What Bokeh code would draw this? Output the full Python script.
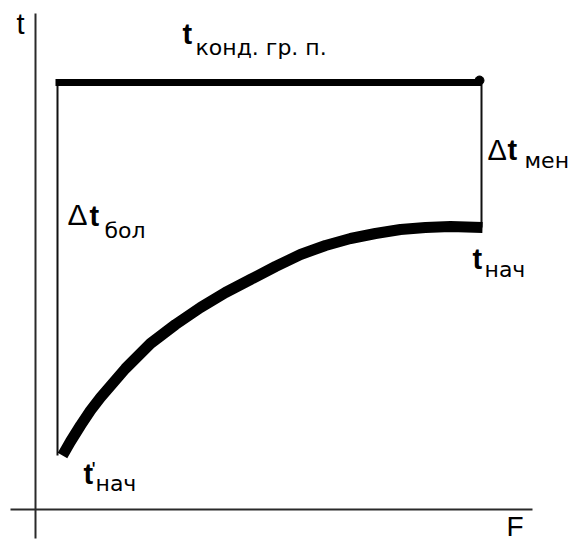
from bokeh.plotting import figure
from bokeh.models import Range1d
from bokeh.core.properties import value
from bokeh.embed import file_html
from bokeh.resources import INLINE

# Schematic: condensation temperature vs. heat-transfer surface F
# Coordinates: F along the horizontal axis, t along the vertical axis (origin at axis cross)

# Curve of the initial temperature t_нач along F
F_curve = [27, 35, 45, 55, 65, 90, 115, 140, 165, 190, 215, 240, 265, 290, 315, 340, 365, 390, 415, 447]
t_curve = [54, 68, 84, 99, 112, 141, 166, 185, 202, 217, 230, 243, 255, 264, 271, 276, 280, 282, 283, 282]

# Condensation temperature level (horizontal line)
t_cond = 427
F_left = 22
F_right = 446

# Axis extents
F_axis = [-25, 497]
t_axis = [-29, 496]

# Labels
lbl_axis_t = "t"
lbl_axis_F = "F"
lbl_cond_sub = "конд. гр. п."
lbl_sub_men = "мен"
lbl_sub_bol = "бол"
lbl_sub_nach = "нач"

p = figure(width=572, height=543, output_backend="svg", toolbar_location=None,
           x_range=Range1d(-35, 537), y_range=Range1d(-34, 509),
           min_border=0, outline_line_color=None, background_fill_color="white",
           border_fill_color="white")
p.axis.visible = False
p.grid.visible = False

axis_col = "#2a2a2a"
# axes
p.segment(x0=[F_axis[0]], y0=[0], x1=[F_axis[1]], y1=[0], line_color=axis_col, line_width=2)
p.segment(x0=[0], y0=[t_axis[0]], x1=[0], y1=[t_axis[1]], line_color=axis_col, line_width=2)

# thin verticals: Δt_бол and Δt_мен
p.segment(x0=[F_left, F_right], y0=[t_cond, t_cond], x1=[F_left, F_right],
          y1=[t_curve[0], t_curve[-1]], line_color="#111111", line_width=2)

# condensation temperature line
p.line([F_left - 2, F_right], [t_cond, t_cond], line_color="black", line_width=7)
p.scatter([F_right - 2], [t_cond + 2], size=9, color="black")

# initial temperature curve
p.line(F_curve, t_curve, line_color="black", line_width=11, line_join="round")

sans = value("Liberation Sans")
dv = value("DejaVu Sans")

def label(x, y, txt, font, size, bold=False):
    # baseline placement, nudged so the glyph baseline sits at y
    p.text(x=[x], y=[y], text=[txt], text_font=font, text_font_size=f"{size}px",
           text_font_style="bold" if bold else "normal", text_color="black",
           text_align="left", text_baseline="alphabetic",
           y_offset=-round(0.36 * size))

# axis names
label(-19, 476, lbl_axis_t, sans, 29)
label(471, -27, lbl_axis_F, sans, 28)

# t конд. гр. п.
label(147, 466, "t", sans, 29, bold=True)
label(160, 454, lbl_cond_sub, dv, 22)

# Δt мен
label(452, 350, "Δ", sans, 29)
label(472, 350, "t", sans, 29, bold=True)
label(489, 341, lbl_sub_men, dv, 22)

# t нач (end of curve)
label(437, 241, "t", sans, 29, bold=True)
label(449, 232, lbl_sub_nach, dv, 22)

# Δt бол
label(32, 284, "Δ", sans, 30)
label(54, 284, "t", sans, 29, bold=True)
label(69, 271, lbl_sub_bol, dv, 22)

# t' нач (start of curve)
label(48, 26, "t", sans, 29, bold=True)
label(56, 32, "'", sans, 22)
label(60, 18, lbl_sub_nach, dv, 22)

open("out.html", "w").write(file_html(p, INLINE))
